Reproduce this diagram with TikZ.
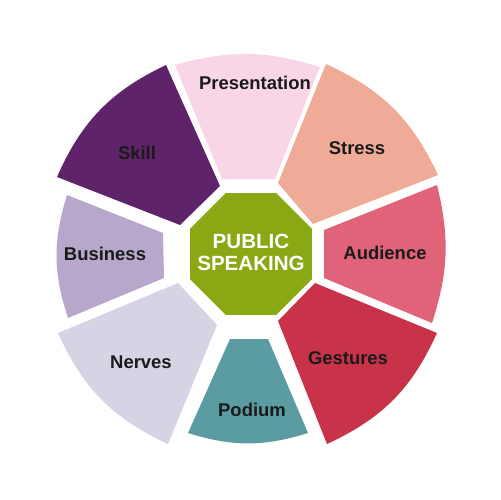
\documentclass[tikz,border=0pt]{standalone}
\usepackage{fontspec}
\setmainfont{Liberation Sans}
\definecolor{cPres}{HTML}{F8D5E7}
\definecolor{cStress}{HTML}{EFAB97}
\definecolor{cAud}{HTML}{E0637A}
\definecolor{cGest}{HTML}{C8334A}
\definecolor{cPod}{HTML}{5B9CA3}
\definecolor{cNerv}{HTML}{D6D4E4}
\definecolor{cBus}{HTML}{B7A7CA}
\definecolor{cSkill}{HTML}{5F236A}
\definecolor{cGreen}{HTML}{8AA813}
\definecolor{cText}{HTML}{1A1A1A}
\begin{document}
\begin{tikzpicture}[x=0.02cm,y=-0.02cm,
  lbl/.style={font=\fontsize{10.5}{12}\selectfont\bfseries, text=cText, inner sep=0pt},
  ctr/.style={font=\fontsize{11.7}{12.6}\selectfont\bfseries, text=white, align=center, inner sep=0pt}]
\useasboundingbox (0,0) rectangle (500,500);
\fill[white] (0,0) rectangle (500,500);
% segments
\fill[cPres]   (222,179) -- (175,65)  to[bend left=16.4] (320,67)  -- (275,179) -- cycle;
\fill[cStress] (278,183) -- (326,64)  to[bend left=20.2] (438,175) -- (313,224) -- cycle;
\fill[cAud]    (324,230) -- (437,185) to[bend left=15.8] (432,323) -- (324,278) -- cycle;
\fill[cGest]   (315,283) -- (437,333) to[bend left=20.4] (327,444) -- (278,321) -- cycle;
\fill[cPod]    (268,339) -- (308,433) to[bend left=17.3] (188,433) -- (230,339) -- cycle;
\fill[cNerv]   (217,325) -- (168,444) to[bend left=20.4] (58,333)  -- (178,283) -- cycle;
\fill[cBus]    (164,278) -- (68,318)  to[bend left=17.7] (67,195)  -- (163,233) -- cycle;
\fill[cSkill]  (180,225) -- (57,177)  to[bend left=20.4] (166,65)  -- (220,186) -- cycle;
% central octagon
\fill[cGreen, shift={(251,254)}] (22.5:66) -- (67.5:66) -- (112.5:66) -- (157.5:66)
  -- (202.5:66) -- (247.5:66) -- (292.5:66) -- (337.5:66) -- cycle;
\node[ctr] (title) at (251,252) {PUBLIC\\SPEAKING};
% labels
\node[lbl] (pres)   at (255,83)  {Presentation};
\node[lbl] (stress) at (357,148) {Stress};
\node[lbl] (aud)    at (385,253) {Audience};
\node[lbl] (gest)   at (348,358) {Gestures};
\node[lbl] (pod)    at (252,410) {Podium};
\node[lbl] (nerv)   at (141,362) {Nerves};
\node[lbl] (bus)    at (105,254) {Business};
\node[lbl] (skill)  at (137,153) {Skill};
\end{tikzpicture}
\end{document}
